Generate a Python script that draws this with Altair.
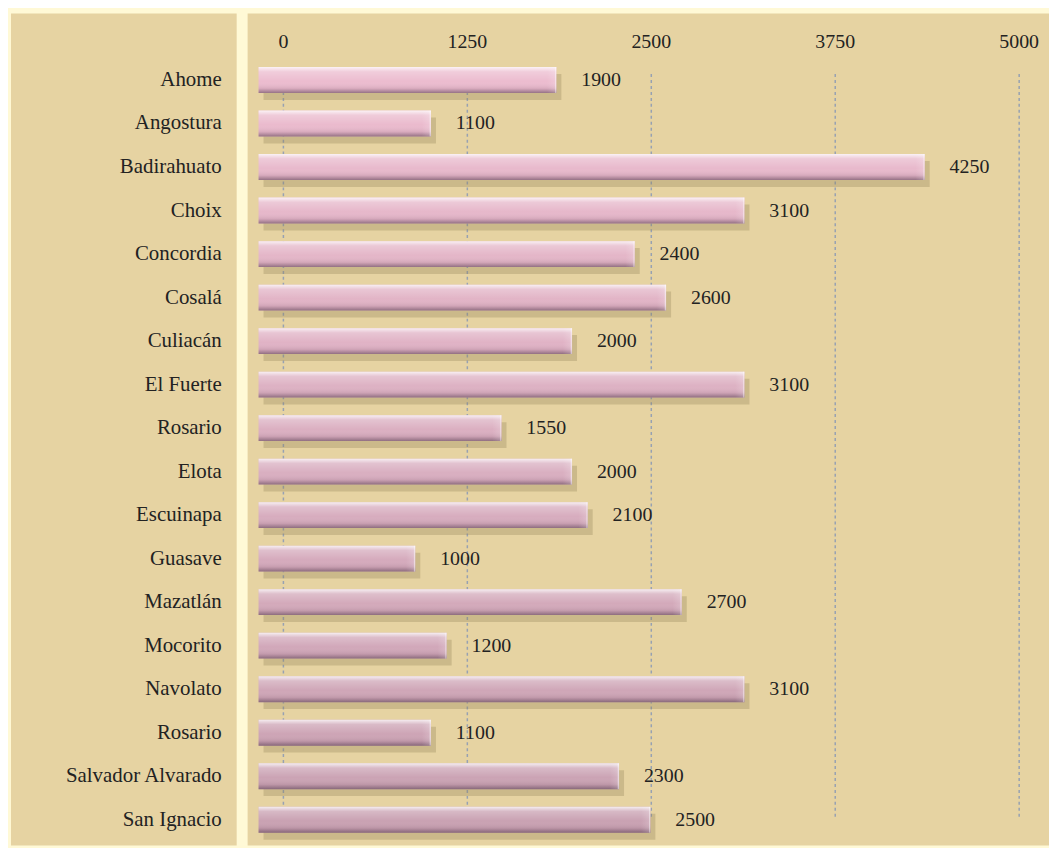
import altair as alt
import pandas as pd

municipios = ["Ahome", "Angostura", "Badirahuato", "Choix", "Concordia", "Cosalá",
              "Culiacán", "El Fuerte", "Rosario", "Elota", "Escuinapa", "Guasave",
              "Mazatlán", "Mocorito", "Navolato", "Rosario", "Salvador Alvarado",
              "San Ignacio"]
valores = [1900, 1100, 4250, 3100, 2400, 2600, 2000, 3100, 1550, 2000, 2100, 1000,
           2700, 1200, 3100, 1100, 2300, 2500]
ticks = [0, 1250, 2500, 3750, 5000]

df = pd.DataFrame({"idx": list(range(len(municipios))), "municipio": municipios, "valor": valores})
df["etiqueta"] = df["valor"].astype(str)
tick_df = pd.DataFrame({"t": ticks, "lab": [str(t) for t in ticks]})

TAN = "#E6D3A2"
CREAM = "#FFF9D6"
FONT = "Liberation Serif"
TXT = "#222222"

RW = 806
H = 837

yscale = alt.Scale(type="point", domain=list(range(len(municipios))), range=[67, 811], padding=0)
xa = alt.Scale(domain=[-243.2, (RW - 36) / 0.148], nice=False, zero=False)
xb = alt.Scale(domain=[-69.8, (RW - 11) / 0.15765], nice=False, zero=False)

left = alt.Chart(df).mark_text(align="right", baseline="middle", font=FONT,
                               fontSize=21, color=TXT).encode(
    y=alt.Y("idx:O", scale=yscale, axis=None),
    x=alt.value(212),
    text="municipio:N",
).properties(width=227, height=H)

grid = alt.Chart(tick_df).mark_rule(strokeDash=[3, 3], color="#97A1B2", strokeWidth=1.5).encode(
    x=alt.X("t:Q", scale=xa, axis=None),
    y=alt.value(61),
    y2=alt.value(811),
)
ticklab = alt.Chart(tick_df).mark_text(font=FONT, fontSize=20, color=TXT, baseline="middle").encode(
    x=alt.X("t:Q", scale=xa, axis=None),
    y=alt.value(29),
    text="lab:N",
)

base = alt.Chart(df).encode(y=alt.Y("idx:O", scale=yscale, axis=None))

shadow = base.mark_bar(height=26, color="#8f7d52", opacity=0.3, xOffset=5, yOffset=7).encode(
    x=alt.X("valor:Q", scale=xb, axis=None))

body = base.mark_bar(height=26).encode(
    x=alt.X("valor:Q", scale=xb, axis=None),
    color=alt.Color("idx:Q", scale=alt.Scale(range=["#ecbccf", "#c9a1b2"]), legend=None),
)

overlay = base.mark_bar(height=26, fill=alt.Gradient(
    gradient="linear", x1=0, x2=0, y1=0, y2=1,
    stops=[
        alt.GradientStop(offset=0, color="rgba(255,255,255,0.8)"),
        alt.GradientStop(offset=0.18, color="rgba(255,255,255,0.25)"),
        alt.GradientStop(offset=0.55, color="rgba(255,255,255,0.0)"),
        alt.GradientStop(offset=0.82, color="rgba(90,60,80,0.12)"),
        alt.GradientStop(offset=1, color="rgba(80,55,75,0.55)"),
    ])).encode(x=alt.X("valor:Q", scale=xb, axis=None))

cap = base.transform_calculate(ini="datum.valor - 60").mark_bar(height=26, fill=alt.Gradient(
    gradient="linear", x1=0, x2=1, y1=0, y2=0,
    stops=[
        alt.GradientStop(offset=0, color="rgba(255,255,255,0)"),
        alt.GradientStop(offset=0.8, color="rgba(255,255,255,0.15)"),
        alt.GradientStop(offset=0.93, color="rgba(255,255,255,0.6)"),
        alt.GradientStop(offset=1, color="rgba(255,255,255,0.3)"),
    ])).encode(
    x=alt.X("ini:Q", scale=xb, axis=None),
    x2="valor:Q",
)

vals = base.mark_text(align="left", baseline="middle", dx=25, font=FONT, fontSize=20,
                      color=TXT).encode(
    x=alt.X("valor:Q", scale=xb, axis=None),
    text="etiqueta:N",
)

right = alt.layer(grid, ticklab, shadow, body, overlay, cap, vals).resolve_scale(
    x="independent").properties(width=RW, height=H)

chart = alt.hconcat(left, right, spacing=11).properties(
    padding={"left": 3, "top": 3, "right": 0, "bottom": 0},
    background=CREAM,
).configure_view(fill=TAN, stroke=None)

chart.save("out.html", embed_options={"renderer": "svg", "actions": False})
